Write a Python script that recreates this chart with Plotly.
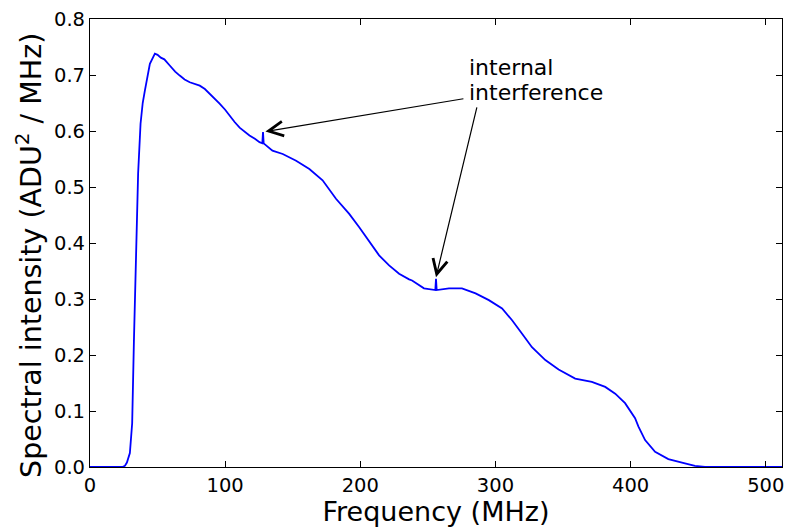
import plotly.graph_objects as go

# Frequency (MHz) and spectral intensity values
freq = [0, 10, 20, 24, 25.8, 27.3, 29.5, 30.2, 31.2, 32.5, 33.7, 35.6, 37.4, 39.0,
        40.6, 44.3, 48.0, 50.0, 52.4, 55.0, 59.0, 63.0, 66.4, 70.0, 73.8, 77.0,
        81.2, 85.0, 88.5, 92.0, 95.9, 100.0, 103.3, 107.0, 110.7, 114.0, 118.0,
        122.0, 125.4, 127.5, 128.0, 128.5, 130.0, 135.0, 142.6, 152.5, 162.3,
        172.1, 182.0, 191.8, 199.2, 206.6, 213.9, 221.3, 228.7, 236.1, 238.3,
        247.1, 255.5, 256.0, 256.5, 265.6, 275.2, 285.3, 295.1, 304.9, 312.3,
        319.7, 327.0, 336.9, 346.7, 359.0, 371.3, 381.2, 388.6, 395.9, 403.3,
        405.8, 410.7, 418.1, 427.9, 440.2, 447.6, 455.0, 480.0, 512.0]
intensity = [0.0, 0.0, 0.0, 0.0, 0.002, 0.008, 0.025, 0.045, 0.078, 0.226, 0.346,
             0.524, 0.613, 0.650, 0.672, 0.720, 0.738, 0.736, 0.731, 0.728, 0.717,
             0.706, 0.699, 0.692, 0.687, 0.684, 0.681, 0.675, 0.667, 0.659, 0.649,
             0.638, 0.627, 0.616, 0.606, 0.599, 0.592, 0.586, 0.580, 0.578, 0.598,
             0.578, 0.575, 0.565, 0.559, 0.547, 0.532, 0.512, 0.479, 0.452, 0.428,
             0.402, 0.378, 0.360, 0.345, 0.335, 0.333, 0.319, 0.316, 0.336, 0.316,
             0.319, 0.319, 0.310, 0.298, 0.283, 0.262, 0.238, 0.214, 0.191, 0.174,
             0.158, 0.152, 0.143, 0.131, 0.114, 0.087, 0.072, 0.048, 0.027, 0.014,
             0.0066, 0.002, 0.0, 0.0, 0.0]

x_ticks = [0, 100, 200, 300, 400, 500]
y_ticks = [0.0, 0.1, 0.2, 0.3, 0.4, 0.5, 0.6, 0.7, 0.8]

spike_points = [(129.8, 0.599), (256.0, 0.339)]
arrow_tails = [(277.4, 0.658), (286.5, 0.645)]
label_lines = ["internal", "interference"]
label_pos = [(278.8, 0.714), (278.8, 0.669)]

FONT = "DejaVu Sans"

fig = go.Figure()
fig.add_trace(go.Scatter(x=freq, y=intensity, mode="lines",
                         line=dict(color="#0000ff", width=1.8),
                         showlegend=False, hoverinfo="skip"))

for (hx, hy), (tx, ty) in zip(spike_points, arrow_tails):
    fig.add_annotation(x=hx, y=hy, ax=tx, ay=ty, xref="x", yref="y",
                       axref="x", ayref="y", text="", showarrow=True,
                       arrowhead=5, arrowsize=2.4, arrowwidth=1.2,
                       arrowcolor="black")

for txt, (lx, ly) in zip(label_lines, label_pos):
    fig.add_annotation(x=lx, y=ly, xref="x", yref="y", text=txt,
                       showarrow=False, xanchor="left", yanchor="middle",
                       font=dict(family=FONT, size=22, color="black"))

# y-axis label placed as a rotated annotation
fig.add_annotation(x=-0.089, y=0.472, xref="paper", yref="paper",
                   text="Spectral intensity (ADU<sup>2</sup> / MHz)",
                   textangle=-90, showarrow=False, xanchor="center", yanchor="middle",
                   font=dict(family=FONT, size=28.5, color="black"))

axis_common = dict(showline=True, linecolor="black", linewidth=1.2,
                   mirror="ticks", ticks="inside", ticklen=6, tickwidth=1,
                   tickcolor="black", showgrid=False, zeroline=False,
                   tickfont=dict(family=FONT, size=19.5, color="black"))

fig.update_xaxes(range=[0, 512], tickvals=x_ticks,
                 ticktext=[str(v) for v in x_ticks],
                 title=dict(text="Frequency (MHz)", standoff=3,
                            font=dict(family=FONT, size=27, color="black")),
                 **axis_common)
fig.update_yaxes(range=[0, 0.8], tickvals=y_ticks,
                 ticktext=[f"{v:.1f}" for v in y_ticks],
                 **axis_common)

fig.update_layout(width=792, height=530,
                  margin=dict(l=90, r=8, t=18, b=63),
                  paper_bgcolor="white", plot_bgcolor="white",
                  font=dict(family=FONT, color="black"))

fig.write_html("out.html")
